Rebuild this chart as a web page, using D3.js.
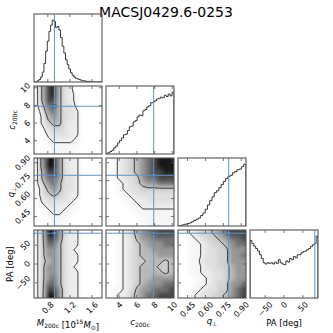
<!DOCTYPE html>
<html>
<head>
<meta charset="utf-8">
<script src="https://cdn.jsdelivr.net/npm/d3@7"></script>
<style>
  body { margin: 0; background: #fff; }
  text { font-family: "DejaVu Sans", sans-serif; fill: #000; }
</style>
</head>
<body>
<div id="chart"></div>
<script>
var title = "MACSJ0429.6-0253";

// parameter ranges and ticks
var mDomain = [0.55, 1.78], cDomain = [2.5, 10.2], qDomain = [0.37, 0.94], paDomain = [-90, 90];
var mTicks = [0.8, 1.2, 1.6], cTicks = [4, 6, 8, 10], qTicks = [0.45, 0.60, 0.75, 0.90], paTicks = [-50, 0, 50];
var mTickLabels = ["0.8", "1.2", "1.6"],
  cTickLabels = ["4", "6", "8", "10"],
  qTickLabels = ["0.45", "0.60", "0.75", "0.90"],
  paTickLabels = ["\u221250", "0", "50"];

// true values (blue lines)
var mTruth = 0.92, cTruth = 7.9, qTruth = 0.795, paTruth = 81.5;

// marginal histograms, equal bins across each range, peak = 100
var mHist = [0, 0, 2, 4, 8, 16, 30, 50, 66, 82, 92, 100, 98, 88, 90, 84, 72, 58, 47, 36,
  28, 21, 15, 11, 8, 6, 5, 4, 3, 2, 2, 1, 1, 1, 0, 0, 0, 0, 0, 0, 0];
var cHist = [1, 2, 4, 6, 10, 13, 18, 22, 26, 31, 32, 38, 44, 45, 52, 54, 60, 63, 62, 70,
  72, 76, 78, 83, 84, 86, 89, 90, 92, 91, 95, 93, 97, 94, 100];
var qHist = [0, 1, 2, 3, 4, 5, 7, 9, 11, 13, 17, 21, 27, 34, 41, 47, 54, 57, 62, 67,
  72, 77, 80, 82, 86, 88, 91, 92, 96, 100];
var paHist = [93, 88, 84, 80, 76, 70, 64, 57, 55, 57, 56, 57, 55, 58, 56, 62, 57, 55, 54, 60,
  58, 64, 62, 67, 65, 70, 70, 73, 75, 76, 78, 80, 83, 86, 88, 100];

// 2D densities (0-9), rows from top to bottom of each panel
var mcGrid = ["158953200000", "158953210000", "158853210000", "147753310000",
  "036753320000", "025653320000", "024553220000", "013443220000",
  "002333220000", "001222210000", "001111110000", "000111100000"];
var mqGrid = ["169963220000", "169963220000", "158863220000", "157763320000",
  "146753320000", "035653320000", "034543220000", "023333210000",
  "012322110000", "001221100000", "001111000000", "000110000000"];
var mpaGrid = ["149963220000", "148863220000", "147753220000", "146653210000",
  "146653220000", "145653220000", "146653210000", "146653220000",
  "146753220000", "147753220000", "148863220000", "149963220000"];
var cqGrid = ["012345678999", "012345678999", "012345678899", "012334677888",
  "001234566777", "001233444444", "001123333333", "000112233333",
  "000011222222", "000001111111", "000000111111", "000000011111"];
var cpaGrid = ["001245677888", "001235667777", "001234566677", "001234556666",
  "001234555666", "001234455545", "001234555445", "001234555545",
  "001234556666", "001234566677", "011235667778", "012245677888"];
var qpaGrid = ["012344567888", "001234456778", "001123445677", "001123344666",
  "001123344667", "001133344666", "001123344566", "001122334566",
  "000112334566", "000112344667", "001123344678", "001233445678"];

var contourLevels = [1.5, 4.5];

var svg_dx = 333, svg_dy = 333,
  panel = 68, gap = 4,
  margin = {top: 14, left: 34},
  tickLen = 3,
  truthColor = "#5b97cc";

var params = [
  {domain: mDomain, ticks: mTicks, tickLabels: mTickLabels, truth: mTruth, hist: mHist},
  {domain: cDomain, ticks: cTicks, tickLabels: cTickLabels, truth: cTruth, hist: cHist},
  {domain: qDomain, ticks: qTicks, tickLabels: qTickLabels, truth: qTruth, hist: qHist},
  {domain: paDomain, ticks: paTicks, tickLabels: paTickLabels, truth: paTruth, hist: paHist}
];
var grids = {"1-0": mcGrid, "2-0": mqGrid, "3-0": mpaGrid, "2-1": cqGrid, "3-1": cpaGrid, "3-2": qpaGrid};

var gray = d3.scaleLinear()
  .domain([0, 1, 2, 3, 4, 5, 6, 7, 8, 9])
  .range(["#ffffff", "#f6f6f6", "#ececec", "#e0e0e0", "#d0d0d0",
    "#b8b8b8", "#969696", "#6e6e6e", "#444", "#141414"]);

var svg = d3.select("#chart")
  .append("svg")
  .attr("width", svg_dx)
  .attr("height", svg_dy);

svg.append("defs")
  .append("filter")
  .attr("id", "soft")
  .append("feGaussianBlur")
  .attr("stdDeviation", 2.2);

svg.append("text")
  .attr("x", 166)
  .attr("y", 16.5)
  .attr("text-anchor", "middle")
  .attr("font-size", 14)
  .text(title);

// repeat the edge cells once so contours run off the panel edges
function padGrid(rows) {
  var g = rows.map(function(r) { return r.split("").map(Number); });
  var n = g[0].length, m = g.length, out = [];
  for (var j = -1; j <= m; j++) {
    var jj = Math.max(0, Math.min(m - 1, j));
    for (var i = -1; i <= n; i++) {
      var ii = Math.max(0, Math.min(n - 1, i));
      out.push(g[jj][ii]);
    }
  }
  return {values: out, n: n + 2, m: m + 2};
}

function drawDensity(g, rows, x0, y0) {
  var pg = padGrid(rows);
  var gx = d3.scaleLinear().domain([1, pg.n - 1]).range([x0, x0 + panel]);
  var gy = d3.scaleLinear().domain([1, pg.m - 1]).range([y0, y0 + panel]);

  var cells = [];
  pg.values.forEach(function(v, k) {
    cells.push({i: k % pg.n, j: Math.floor(k / pg.n), v: v});
  });
  g.append("g")
    .attr("filter", "url(#soft)")
    .selectAll("rect")
    .data(cells)
    .enter()
    .append("rect")
    .attr("x", function(d) { return gx(d.i); })
    .attr("y", function(d) { return gy(d.j); })
    .attr("width", gx(1) - gx(0) + 0.4)
    .attr("height", gy(1) - gy(0) + 0.4)
    .attr("fill", function(d) { return gray(d.v); });

  var contours = d3.contours()
    .size([pg.n, pg.m])
    .thresholds(contourLevels)(pg.values);
  var path = d3.geoPath(d3.geoTransform({
    point: function(x, y) { this.stream.point(gx(x), gy(y)); }
  }));
  g.append("g")
    .selectAll("path")
    .data(contours)
    .enter()
    .append("path")
    .attr("d", path)
    .attr("fill", "none")
    .attr("stroke", "#2a2a2a")
    .attr("stroke-width", 0.9);
}

function drawHist(g, p, xScale, yScale) {
  var h = p.hist, n = h.length;
  var edges = d3.range(n + 1).map(function(k) {
    return p.domain[0] + k * (p.domain[1] - p.domain[0]) / n;
  });
  var pts = [[edges[0], 0]];
  h.forEach(function(v, k) {
    pts.push([edges[k], v]);
    pts.push([edges[k + 1], v]);
  });
  pts.push([edges[n], 0]);
  var line = d3.line()
    .x(function(d) { return xScale(d[0]); })
    .y(function(d) { return yScale(d[1]); });
  g.append("path")
    .attr("d", line(pts))
    .attr("fill", "none")
    .attr("stroke", "#222")
    .attr("stroke-width", 0.9);
}

function rotatedLabel(x, y, label, side) {
  var t = svg.append("text")
    .attr("font-size", 8)
    .attr("text-anchor", "middle")
    .attr("dy", "0.36em")
    .text(label);
  var w = t.node().getComputedTextLength();
  var half = (w + 6) / Math.SQRT2 / 2;
  var cx = side === "bottom" ? x : x - 3 - half;
  var cy = side === "bottom" ? y + 3 + half : y;
  t.attr("transform", "translate(" + cx + "," + cy + ") rotate(-45)");
}

for (var i = 0; i < 4; i++) {
  for (var j = 0; j <= i; j++) {
    var x0 = margin.left + j * (panel + gap),
      y0 = margin.top + i * (panel + gap);
    var px = params[j];
    var xScale = d3.scaleLinear().domain(px.domain).range([x0, x0 + panel]);
    var yScale = i === j
      ? d3.scaleLinear().domain([0, 110]).range([y0 + panel, y0])
      : d3.scaleLinear().domain(params[i].domain).range([y0 + panel, y0]);

    var clipId = "clip-" + i + "-" + j;
    svg.select("defs").append("clipPath")
      .attr("id", clipId)
      .append("rect")
      .attr("x", x0).attr("y", y0)
      .attr("width", panel).attr("height", panel);

    var g = svg.append("g").attr("clip-path", "url(#" + clipId + ")");

    if (i === j) {
      drawHist(g, px, xScale, yScale);
      g.append("line")
        .attr("x1", xScale(px.truth)).attr("x2", xScale(px.truth))
        .attr("y1", y0).attr("y2", y0 + panel)
        .attr("stroke", truthColor).attr("stroke-width", 1);
    } else {
      drawDensity(g, grids[i + "-" + j], x0, y0);
      var tx = xScale(px.truth), ty = yScale(params[i].truth);
      g.append("line")
        .attr("x1", tx).attr("x2", tx)
        .attr("y1", y0).attr("y2", y0 + panel)
        .attr("stroke", truthColor).attr("stroke-width", 1);
      g.append("line")
        .attr("x1", x0).attr("x2", x0 + panel)
        .attr("y1", ty).attr("y2", ty)
        .attr("stroke", truthColor).attr("stroke-width", 1);
      g.append("rect")
        .attr("x", tx - 1.6).attr("y", ty - 1.6)
        .attr("width", 3.2).attr("height", 3.2)
        .attr("fill", truthColor)
        .attr("stroke", "#2b5580").attr("stroke-width", 0.5);
    }

    // frame
    svg.append("rect")
      .attr("x", x0).attr("y", y0)
      .attr("width", panel).attr("height", panel)
      .attr("fill", "none")
      .attr("stroke", "#555")
      .attr("stroke-width", 1.1);

    // inward ticks
    var tk = svg.append("g").attr("stroke", "#555").attr("stroke-width", 0.8);
    px.ticks.forEach(function(v) {
      var x = xScale(v);
      tk.append("line").attr("x1", x).attr("x2", x).attr("y1", y0 + panel).attr("y2", y0 + panel - tickLen);
      tk.append("line").attr("x1", x).attr("x2", x).attr("y1", y0).attr("y2", y0 + tickLen);
    });
    if (i !== j) {
      params[i].ticks.forEach(function(v) {
        var y = yScale(v);
        tk.append("line").attr("x1", x0).attr("x2", x0 + tickLen).attr("y1", y).attr("y2", y);
        tk.append("line").attr("x1", x0 + panel).attr("x2", x0 + panel - tickLen).attr("y1", y).attr("y2", y);
      });
    }

    if (i === 3) {
      px.ticks.forEach(function(v, k) {
        rotatedLabel(xScale(v), y0 + panel, px.tickLabels[k], "bottom");
      });
    }
    if (j === 0 && i > 0) {
      params[i].ticks.forEach(function(v, k) {
        rotatedLabel(x0, yScale(v), params[i].tickLabels[k], "left");
      });
    }
  }
}

// axis titles
function sub(t, s) {
  t.append("tspan").attr("font-size", 6).attr("dy", 2).text(s);
  t.append("tspan").attr("dy", -2).text("");
}

function mLabel(t) {
  t.append("tspan").style("font-style", "italic").text("M");
  sub(t, "200c");
  t.append("tspan").text(" [10");
  t.append("tspan").attr("font-size", 6).attr("dy", -3.5).text("15");
  t.append("tspan").attr("dy", 3.5).style("font-style", "italic").text("M");
  sub(t, "\u2299");
  t.append("tspan").text("]");
}
function cLabel(t) {
  t.append("tspan").style("font-style", "italic").text("c");
  sub(t, "200c");
}
function qLabel(t) {
  t.append("tspan").style("font-style", "italic").text("q");
  sub(t, "\u22a5");
}
function paLabel(t) {
  t.text("PA [deg]");
}

var bottomLabels = [mLabel, cLabel, qLabel, paLabel];
var bottomBase = [325.5, 324.5, 324, 325.5];
bottomLabels.forEach(function(f, k) {
  var t = svg.append("text")
    .attr("font-size", 8.5)
    .attr("text-anchor", "middle")
    .attr("transform", "translate(" + (margin.left + k * (panel + gap) + panel / 2) + "," + bottomBase[k] + ")");
  f(t);
});

var leftLabels = [cLabel, qLabel, paLabel];
var leftBase = [14.5, 13.5, 13.3];
leftLabels.forEach(function(f, k) {
  var t = svg.append("text")
    .attr("font-size", 8.5)
    .attr("text-anchor", "middle")
    .attr("transform", "translate(" + leftBase[k] + "," + (margin.top + (k + 1) * (panel + gap) + panel / 2) + ") rotate(-90)");
  f(t);
});
</script>
</body>
</html>
